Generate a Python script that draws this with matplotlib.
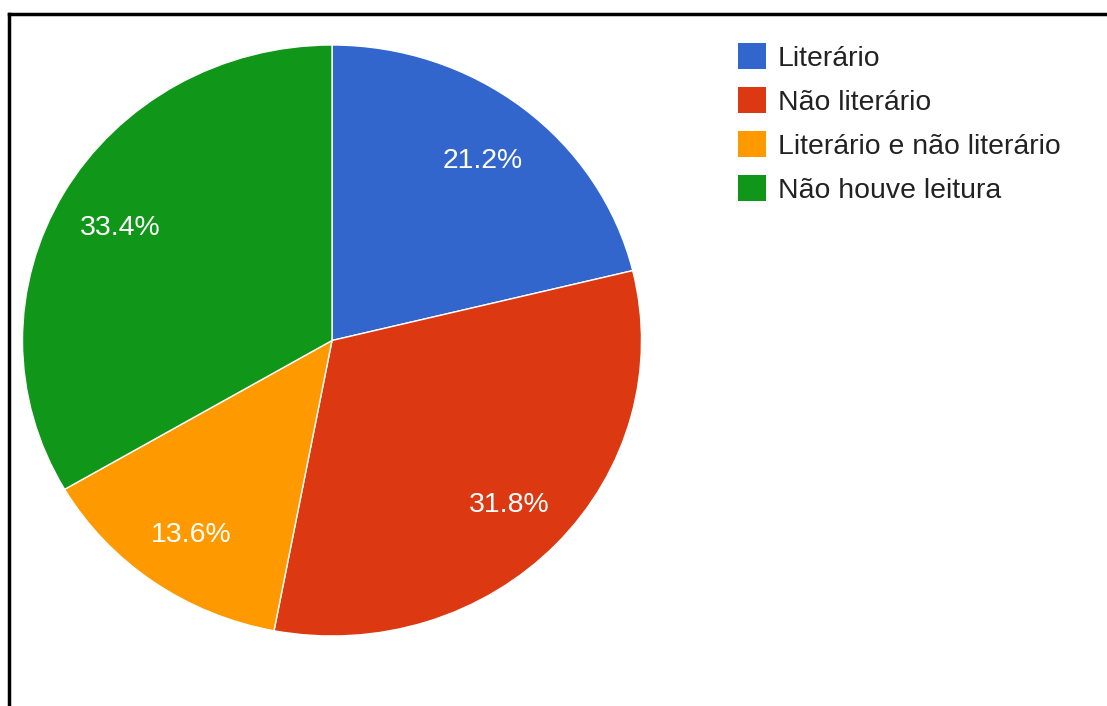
import matplotlib
matplotlib.use("Agg")
import matplotlib.pyplot as plt
from matplotlib.patches import Rectangle
from matplotlib.lines import Line2D

# Data
labels = ["Literário", "Não literário", "Literário e não literário", "Não houve leitura"]
shares = [21.2, 31.8, 13.6, 33.4]
colors = ["#3366cc", "#dc3912", "#ff9900", "#109618"]

plt.rcParams['font.family'] = ['Liberation Sans', 'DejaVu Sans']

W, H = 1107, 706
fig = plt.figure(figsize=(W / 100, H / 100), dpi=100)

# pie area (the original is slightly stretched horizontally)
ax = fig.add_axes([22.5 / W, (H - 636) / H, 619 / W, 591 / H])
wedges, texts, autotexts = ax.pie(
    shares, colors=colors, startangle=90, counterclock=False,
    autopct='%1.1f%%', pctdistance=0.79, radius=1.0,
    wedgeprops=dict(edgecolor='white', linewidth=1.0),
    textprops=dict(color='white', fontsize=20.4))
ax.set_aspect('auto')
ax.set_xlim(-1, 1)
ax.set_ylim(-1, 1)
ax.axis('off')

# nudge the percent labels down a little, like the original renderer
for t in autotexts:
    x, y = t.get_position()
    t.set_position((x, y - 4 * 2 / 591))

# legend, drawn by hand to match the Google Charts look
for i, (lab, col) in enumerate(zip(labels, colors)):
    yc = 56 + i * 44
    fig.patches.append(Rectangle((738 / W, (H - yc - 13) / H), 28 / W, 26 / H,
                                 transform=fig.transFigure, facecolor=col,
                                 edgecolor='none'))
    fig.text(778 / W, (H - yc - 10) / H, lab, fontsize=20.4, color='#222222',
             ha='left', va='baseline')

# frame lines (top and left visible in the screenshot)
fig.lines.append(Line2D([9 / W, 1.0], [(H - 14) / H] * 2, transform=fig.transFigure,
                        color='black', linewidth=2.5))
fig.lines.append(Line2D([9 / W] * 2, [0, (H - 14) / H], transform=fig.transFigure,
                        color='black', linewidth=2.5))

fig.savefig("out.png", dpi=100)
